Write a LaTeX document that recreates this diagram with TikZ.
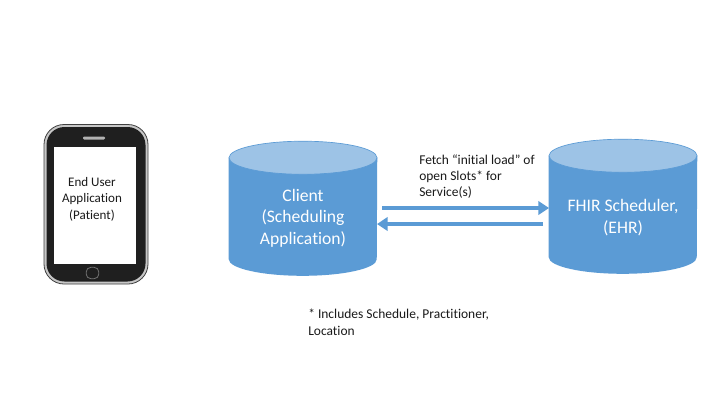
\documentclass[tikz,border=0pt]{standalone}
\usepackage{fontspec}
\setmainfont{Carlito}[Ligatures=NoCommon]
\usetikzlibrary{arrows.meta,calc}
\definecolor{cylbody}{HTML}{5B9BD5}
\definecolor{cyltop}{HTML}{9DC3E6}
\definecolor{txt}{HTML}{1A1A1A}
\tikzset{
  x=0.75pt,y=-0.75pt,
  storebox/.style={minimum width=111pt,minimum height=100.5pt,inner sep=0pt,draw=none},
  storetext/.style={text=white,align=center,inner sep=0pt,font=\fontsize{13.2pt}{16pt}\selectfont},
  flow/.style={draw=cylbody,line width=3pt,-{Triangle[length=8pt,width=10pt]}},
  note/.style={anchor=north west,align=left,text=txt,inner sep=0pt,font=\fontsize{10.1pt}{12pt}\selectfont},
}
\newcommand{\drawstore}[1]{%
  \fill[cylbody] ($(#1.north west)+(0,16.5)$) -- ($(#1.south west)+(0,-16.5)$)
    arc[start angle=180,end angle=360,x radius=55.5pt,y radius=12.4pt]
    -- ($(#1.north east)+(0,16.5)$) -- cycle;
  \fill[cyltop,draw=cylbody,line width=0.5pt] ($(#1.north)+(0,16.5)$) ellipse [x radius=55.5pt,y radius=12.4pt];
}
\begin{document}
\begin{tikzpicture}
\useasboundingbox (0,0) rectangle (720,405);
\fill[white] (0,0) rectangle (720,405);
% phone
\draw[draw=black!75,fill=black!22,line width=0.6pt,rounded corners=15pt] (44,124.5) rectangle (148,284);
\fill[fill=black!88,rounded corners=13.5pt] (46.5,127) rectangle (145.5,281.5);
\node[fill=white,minimum width=61.5pt,minimum height=88pt,inner sep=0pt] (screen) at (95,205.5) {};
\node[align=center,text=txt,inner sep=0pt,font=\fontsize{9.8pt}{12.4pt}\selectfont] (screentext) at (92,199) {End User\\Application\\(Patient)};
\fill[black!30,rounded corners=0.8pt] (83,136.5) rectangle (105,139.5);
\node[draw=black!55,line width=0.6pt,fill=black!88,rounded corners=3.5pt,minimum width=9.5pt,minimum height=8.5pt,inner sep=0pt] (home) at (92.5,273) {};
% cylinders
\node[storebox] (client) at (303,208.5) {};
\drawstore{client}
\node[storetext] (clienttext) at (303,218) {Client\\(Scheduling\\Application)};
\node[storebox] (fhir) at (623,206.5) {};
\drawstore{fhir}
\node[storetext] (fhirtext) at (623,217.5) {FHIR Scheduler,\\(EHR)};
% flows
\draw[flow] ($(client.center)+(79,-0.5)$) -- ($(fhir.center)+(-74,1.5)$);
\draw[flow] ($(fhir.center)+(-80,17.5)$) -- ($(client.center)+(74,15.5)$);
\node[note] (fetch) at (419,155) {Fetch “initial load” of\\open Slots* for\\Service(s)};
\node[note,font=\fontsize{10.1pt}{12.5pt}\selectfont] (foot) at (308,309) {* Includes Schedule, Practitioner,\\Location};
\end{tikzpicture}
\end{document}
